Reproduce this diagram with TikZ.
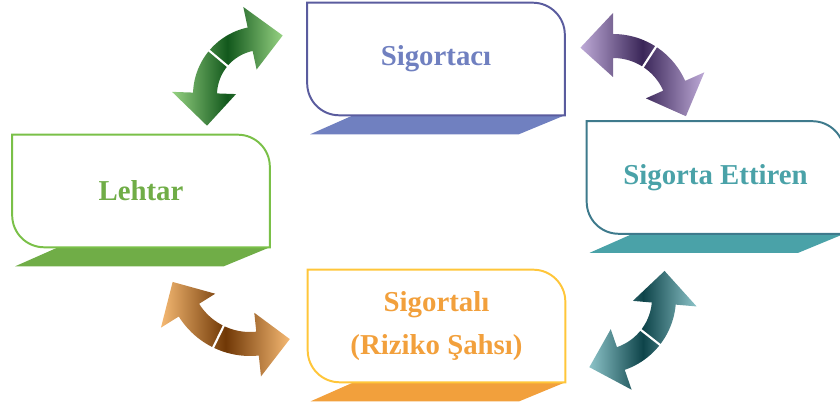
\documentclass[tikz,border=0pt]{standalone}
\usepackage{fontspec}
\setmainfont{Liberation Serif}
\usepackage{tikz}
\usetikzlibrary{calc}
\definecolor{morCizgi}{RGB}{90,92,158}
\definecolor{morYazi}{RGB}{112,128,192}
\definecolor{yesilCizgi}{RGB}{122,192,72}
\definecolor{yesilYazi}{RGB}{112,173,71}
\definecolor{camgobegiCizgi}{RGB}{62,122,140}
\definecolor{camgobegiYazi}{RGB}{74,162,168}
\definecolor{turuncuCizgi}{RGB}{255,198,58}
\definecolor{turuncuYazi}{RGB}{242,160,60}
\definecolor{okYesilKoyu}{RGB}{18,88,28}
\definecolor{okYesilAcik}{RGB}{150,210,130}
\definecolor{okMorKoyu}{RGB}{58,38,88}
\definecolor{okMorAcik}{RGB}{190,170,215}
\definecolor{okCamKoyu}{RGB}{14,68,74}
\definecolor{okCamAcik}{RGB}{140,195,200}
\definecolor{okTuruncuKoyu}{RGB}{112,56,6}
\definecolor{okTuruncuAcik}{RGB}{245,185,115}

\begin{document}
\begin{tikzpicture}[x=0.025cm,y=0.025cm]
\tikzstyle{kutu}=[minimum width=6.425cm,minimum height=2.8cm,inner sep=0pt,align=center,font=\bfseries\fontsize{20.5}{30}\selectfont]
\tikzstyle{cerceve}=[line width=1.4pt]
\tikzstyle{bosluk}=[white,line width=1.5pt]
\def\Yaricap{0.8cm}
\def\Kutu#1#2#3{%
\fill[#3] ($(#1.south west)+(46,0)$) -- (#1.south east) -- ($(#1.south east)+(-46,-19)$) -- ($(#1.south west)+(3,-19)$) -- cycle;
\draw[cerceve,#2] (#1.north west) -- ($(#1.north east)+(-32,0)$) arc[start angle=90,end angle=0,radius=\Yaricap] -- (#1.south east) -- ($(#1.south west)+(32,0)$) arc[start angle=270,end angle=180,radius=\Yaricap] -- cycle;
}
\def\CiftOk#1#2#3#4#5#6{%
\begin{scope}[shift={(#1)}]
\pgfmathsetmacro\Uc{31/#2*57.3}
\shade[left color=#6,right color=#6,middle color=#5]
({#3-\Uc}:{#2+6}) -- (#3:{#2+33}) -- (#3:{#2+12})
-- plot[domain=#3:#4,samples=24] ({\x}:{#2+12})
-- (#4:{#2+33}) -- ({#4+\Uc}:{#2+6}) -- (#4:{#2-31}) -- (#4:{#2-12})
-- plot[domain=#4:#3,samples=24] ({\x}:{#2-12})
-- (#3:{#2-31}) -- cycle;
\draw[bosluk] ({(#3+#4)/2}:{#2-14}) -- ({(#3+#4)/2}:{#2+14});
\end{scope}}
\useasboundingbox (0,0) rectangle (840,405);
\node[kutu,text=morYazi] (Sigortaci) at (436,346) {Sigortacı};
\node[kutu,text=yesilYazi] (Lehtar) at (141,214) {Lehtar};
\node[kutu,text=camgobegiYazi] (Ettiren) at (715.5,227.5) {Sigorta Ettiren};
\node[kutu,text=turuncuYazi] (Sigortali) at (436.5,79) {Sigortalı\\(Riziko Şahsı)};
\Kutu{Sigortaci}{morCizgi}{morYazi}
\Kutu{Lehtar}{yesilCizgi}{yesilYazi}
\Kutu{Ettiren}{camgobegiCizgi}{camgobegiYazi}
\Kutu{Sigortali}{turuncuCizgi}{turuncuYazi}
\coordinate (OkA) at (262,310);
\coordinate (OkB) at (613,292);
\coordinate (OkC) at (600,107);
\coordinate (OkD) at (250,133);
\CiftOk{OkA}{57}{102}{178}{okYesilKoyu}{okYesilAcik}
\CiftOk{OkB}{67}{24}{90}{okMorKoyu}{okMorAcik}
\CiftOk{OkC}{64}{-71}{-5}{okCamKoyu}{okCamAcik}
\CiftOk{OkD}{72}{212}{276}{okTuruncuKoyu}{okTuruncuAcik}
\end{tikzpicture}
\end{document}
